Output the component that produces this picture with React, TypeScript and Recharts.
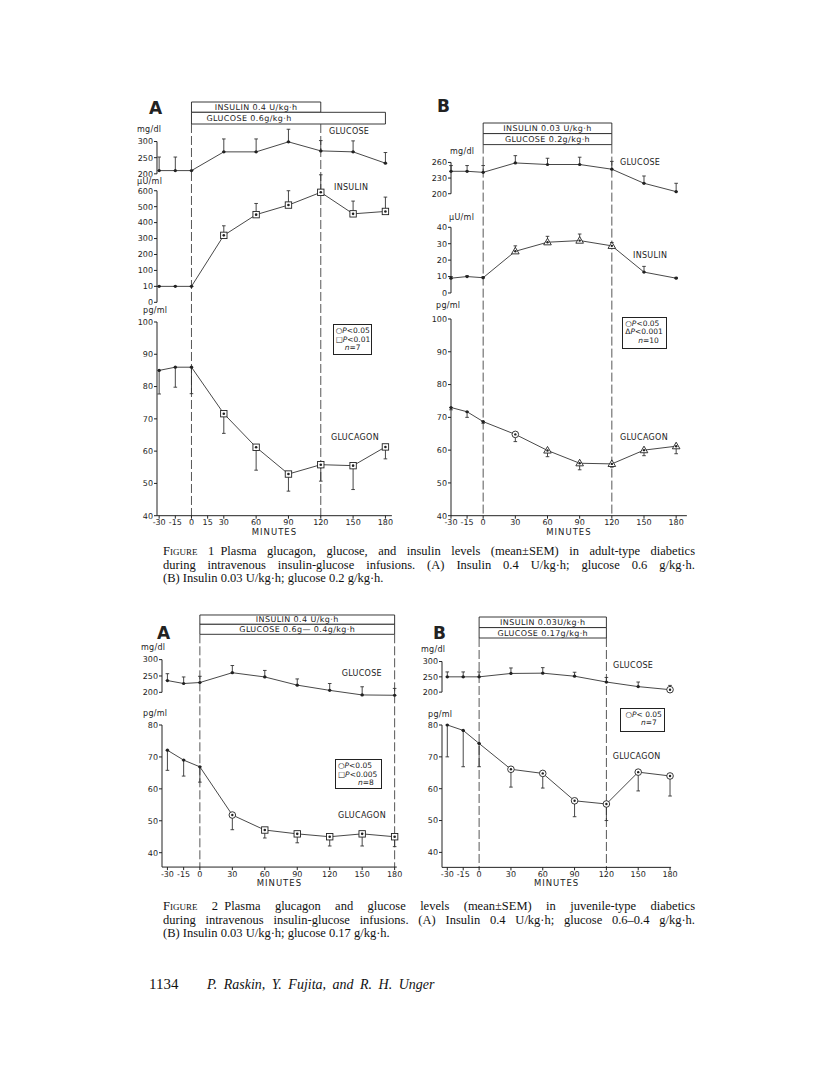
import React from "react";
import { LineChart, Line, XAxis, YAxis, ErrorBar, ReferenceLine, ReferenceArea } from "recharts";

const minutes = [-30, -15, 0, 30, 60, 90, 120, 150, 180];
const ticks1A = [-30, -15, 0, 15, 30, 60, 90, 120, 150, 180];
const ticksStd = [-30, -15, 0, 30, 60, 90, 120, 150, 180];

// Figure 1A (adult-type, insulin 0.4 U/kg.h)
const glucose1A = [210, 210, 210, 268, 268, 299, 271, 268, 233];
const glucose1AErr = [42, 42, 0, 40, 40, 39, 32, 34, 33];
const glucose1AMarks = ["dot", "dot", "dot", "dot", "dot", "dot", "dot", "dot", "dot"];
const insulin1A = [10, 10, 10, 320, 450, 510, 590, 455, 470];
const insulin1AErr = [0, 0, 0, 60, 70, 90, 110, 80, 90];
const insulin1AMarks = ["dot", "dot", "dot", "sq", "sq", "sq", "sq", "sq", "sq"];
const insulin1ATicks = [0, 1, 2, 3, 4, 5, 6, 7];
const insulin1ALabels = ["0", "10", "100", "200", "300", "400", "500", "600"];
const glucagon1A = [85, 86, 86, 71.6, 61.2, 52.9, 55.8, 55.5, 61.3];
const glucagon1AErr = [7.3, 6.2, 8.2, 6.1, 7.1, 5.3, 5.1, 7.4, 3.7];
const glucagon1AMarks = ["dot", "dot", "dot", "sq", "sq", "sq", "sq", "sq", "sq"];

// Figure 1B (adult-type, insulin 0.03 U/kg.h)
const glucose1B = [243, 243, 241, 259, 256, 256, 247, 220, 204];
const glucose1BErr = [11, 11, 13, 14, 12, 14, 15, 14, 16];
const glucose1BMarks = ["dot", "dot", "dot", "dot", "dot", "dot", "dot", "dot", "dot"];
const insulin1B = [9, 10, 9.3, 25.4, 30.9, 31.9, 28.7, 12.7, 9];
const insulin1BErr = [1, 0.5, 0.5, 3.3, 3.6, 4, 2, 3.5, 0.5];
const insulin1BMarks = ["dot", "dot", "dot", "tri", "tri", "tri", "tri", "dot", "dot"];
const glucagon1B = [73, 71.7, 68.7, 64.8, 59.9, 56, 55.8, 60, 61.2];
const glucagon1BErr = [0.7, 1.7, 0.5, 2.2, 1.9, 2, 1, 1.7, 2.3];
const glucagon1BMarks = ["dot", "dot", "dot", "circ", "tri", "tri", "tri", "tri", "tri"];

// Figure 2A (juvenile-type, insulin 0.4 U/kg.h)
const glucose2A = [236, 227, 230, 260, 247, 222, 206, 192, 191];
const glucose2AErr = [21, 20, 19, 22, 20, 19, 21, 25, 21];
const glucose2AMarks = ["dot", "dot", "dot", "dot", "dot", "dot", "dot", "dot", "dot"];
const glucagon2A = [72.1, 69, 66.9, 51.8, 47.1, 45.9, 45, 45.9, 45];
const glucagon2AErr = [6.3, 5, 4.8, 4.6, 2.5, 2.8, 2.9, 3.8, 3.1];
const glucagon2AMarks = ["dot", "dot", "dot", "circ", "sq", "sq", "sq", "sq", "sq"];

// Figure 2B (juvenile-type, insulin 0.03 U/kg.h)
const glucose2B = [250, 250, 250, 261, 262, 252, 233, 218, 208];
const glucose2BErr = [16, 16, 16, 18, 18, 13, 15, 15, 14];
const glucose2BMarks = ["dot", "dot", "dot", "dot", "dot", "dot", "dot", "dot", "circ"];
const glucagon2B = [80, 78.3, 74.2, 66.1, 64.8, 56.2, 55.2, 65.2, 64];
const glucagon2BErr = [10, 11.4, 7.3, 5.6, 4.6, 5, 5.2, 5.9, 6.3];
const glucagon2BMarks = ["dot", "dot", "dot", "circ", "circ", "circ", "circ", "circ", "circ"];

const INK = "#222";
const SANS = '"DejaVu Sans", sans-serif';
const SERIF = '"Liberation Serif", "DejaVu Serif", serif';
const AXW = 26;
const PAD = 12;

// broken insulin axis in 1A: 0-10, 10-100, then 100 per step
const brk = (v: number) => (v <= 10 ? v / 10 : v <= 100 ? 1 + (v - 10) / 90 : 2 + (v - 100) / 100);

const build = (vals: number[], errs: number[], marks: string[], up: boolean, f = (v: number) => v) =>
  minutes.map((t, i) => {
    const y = f(vals[i]);
    const e = up ? f(vals[i] + errs[i]) - y : y - f(vals[i] - errs[i]);
    return { t, v: y, e: up ? [0, e] : [e, 0], k: marks[i] };
  });

const renderMark = (props: any) => {
  const { cx, cy, payload, index } = props;
  if (cx == null || cy == null) return <g key={`m${index}`} />;
  const k = payload.k;
  if (k === "sq")
    return (
      <g key={`m${index}`}>
        <rect x={cx - 3.2} y={cy - 3.2} width={6.4} height={6.4} fill="#fff" stroke={INK} strokeWidth={0.9} />
        <circle cx={cx} cy={cy} r={1.3} fill={INK} />
      </g>
    );
  if (k === "circ")
    return (
      <g key={`m${index}`}>
        <circle cx={cx} cy={cy} r={3.3} fill="#fff" stroke={INK} strokeWidth={0.9} />
        <circle cx={cx} cy={cy} r={1.2} fill={INK} />
      </g>
    );
  if (k === "tri")
    return (
      <g key={`m${index}`}>
        <polygon
          points={`${cx},${cy - 4} ${cx - 3.8},${cy + 2.6} ${cx + 3.8},${cy + 2.6}`}
          fill="#fff"
          stroke={INK}
          strokeWidth={0.9}
        />
        <circle cx={cx} cy={cy} r={1.2} fill={INK} />
      </g>
    );
  return <circle key={`m${index}`} cx={cx} cy={cy} r={1.6} fill={INK} />;
};

type Panel = { xMin: number; xMax: number; left: number; right: number; ticks: number[] };
type Cal = [number, number, number, number];
const toPx = (c: Cal, v: number) => c[1] + ((v - c[0]) * (c[3] - c[1])) / (c[2] - c[0]);

const p1A: Panel = { xMin: -32, xMax: 186, left: 157.2, right: 392.1, ticks: ticks1A };
const p1B: Panel = { xMin: -30, xMax: 190, left: 450.5, right: 686.4, ticks: ticksStd };
const p2A: Panel = { xMin: -35, xMax: 182, left: 162.4, right: 397.2, ticks: ticksStd };
const p2B: Panel = { xMin: -35, xMax: 181, left: 441.9, right: 671.0, ticks: ticksStd };

const tickStyle = { fill: INK, fontSize: 8, fontFamily: SANS };

function Plot(props: {
  p: Panel;
  data: any[];
  cal: Cal;
  domain: [number, number];
  axis: [number, number];
  yTicks: number[];
  yLabels?: string[];
  showX?: boolean;
}) {
  const { p, data, cal, domain, axis, yTicks, yLabels, showX } = props;
  const yTop = toPx(cal, domain[1]);
  const yBot = toPx(cal, domain[0]);
  const xh = showX ? 19 : 0;
  const w = p.right - p.left + AXW + PAD;
  const h = yBot - yTop + 2 * PAD + xh;
  return (
    <div style={{ position: "absolute", left: p.left - AXW, top: yTop - PAD }}>
      <LineChart width={w} height={h} data={data} margin={{ top: PAD, right: PAD, bottom: PAD, left: 0 }}>
        <XAxis
          type="number"
          dataKey="t"
          domain={[p.xMin, p.xMax]}
          ticks={p.ticks}
          interval={0}
          hide={!showX}
          height={xh}
          axisLine={{ stroke: INK, strokeWidth: 1 }}
          tickLine={{ stroke: INK }}
          tickSize={3}
          tickMargin={1}
          tick={tickStyle}
          label={{ value: "MINUTES", position: "insideBottom", offset: 0, fill: INK, fontSize: 8.5, fontFamily: SANS, letterSpacing: 1 }}
        />
        <YAxis
          type="number"
          domain={domain}
          ticks={yTicks}
          interval={0}
          width={AXW}
          axisLine={false}
          tickLine={{ stroke: INK }}
          tickSize={3}
          tickMargin={1}
          tick={tickStyle}
          tickFormatter={(v: number) => (yLabels ? yLabels[yTicks.indexOf(v)] : String(v))}
        />
        <ReferenceLine
          segment={[{ x: p.xMin, y: axis[0] }, { x: p.xMin, y: axis[1] }]}
          stroke={INK}
          strokeWidth={1}
          ifOverflow="visible"
        />
        <Line type="linear" dataKey="v" stroke="#333" strokeWidth={0.9} dot={renderMark} activeDot={false} isAnimationActive={false}>
          <ErrorBar dataKey="e" direction="y" width={1.8} stroke="#333" strokeWidth={0.9} />
        </Line>
      </LineChart>
    </div>
  );
}

type Box = { x1: number; x2: number; y1: number; y2: number; text: string; pos?: string; off?: number };

// infusion boxes and the dashed start/stop lines, on an x scale shared with the panel
function Frame(props: { p: Panel; top: number; bottom: number; boxes: Box[]; dashX: number[] }) {
  const { p, top, bottom, boxes, dashX } = props;
  const h = bottom - top;
  const from = Math.max(...boxes.map((b) => b.y2)) - top;
  return (
    <div style={{ position: "absolute", left: p.left - AXW, top: top - PAD }}>
      <LineChart
        width={p.right - p.left + AXW + PAD}
        height={h + 2 * PAD}
        data={[{ t: p.xMin, y: 0 }, { t: p.xMax, y: h }]}
        margin={{ top: PAD, right: PAD, bottom: PAD, left: AXW }}
      >
        <XAxis type="number" dataKey="t" domain={[p.xMin, p.xMax]} hide />
        <YAxis type="number" domain={[0, h]} reversed hide />
        <Line dataKey="y" stroke="none" dot={false} activeDot={false} isAnimationActive={false} />
        {dashX.map((x) => (
          <ReferenceLine
            key={x}
            segment={[{ x, y: from }, { x, y: h }]}
            stroke="#444"
            strokeWidth={0.9}
            strokeDasharray="9 3"
            ifOverflow="visible"
          />
        ))}
        {boxes.map((b, i) => (
          <ReferenceArea
            key={i}
            x1={b.x1}
            x2={b.x2}
            y1={b.y1 - top}
            y2={b.y2 - top}
            fill="#fff"
            fillOpacity={1}
            stroke={INK}
            strokeWidth={0.9}
            ifOverflow="visible"
            label={{
              value: b.text,
              position: (b.pos || "center") as any,
              offset: b.off || 0,
              fontSize: 8,
              letterSpacing: 0.4,
              fill: INK,
              fontFamily: SANS,
            }}
          />
        ))}
      </LineChart>
    </div>
  );
}

function Txt(props: { x: number; y: number; s?: number; b?: boolean; ls?: number; children: React.ReactNode }) {
  const s = props.s || 8;
  return (
    <div
      style={{
        position: "absolute",
        left: props.x,
        top: props.y - s * 0.6,
        fontSize: s,
        lineHeight: 1.2,
        fontFamily: SANS,
        fontWeight: props.b ? "bold" : "normal",
        letterSpacing: props.ls ?? 0.3,
        color: INK,
        whiteSpace: "nowrap",
      }}
    >
      {props.children}
    </div>
  );
}

function Legend(props: { x: number; y: number; w: number; h: number; lines: React.ReactNode[] }) {
  return (
    <div
      style={{
        position: "absolute",
        left: props.x,
        top: props.y,
        width: props.w,
        height: props.h,
        border: `1px solid ${INK}`,
        boxSizing: "border-box",
        padding: "2px 2px",
        fontFamily: SANS,
        fontSize: 7.5,
        lineHeight: "8.6px",
        color: INK,
        whiteSpace: "nowrap",
      }}
    >
      {props.lines.map((l, i) => (
        <div key={i}>{l}</div>
      ))}
    </div>
  );
}

const P = <i>P</i>;

function Caption(props: { y: number; lines: React.ReactNode[] }) {
  return (
    <>
      {props.lines.map((l, i) => (
        <div
          key={i}
          style={{
            position: "absolute",
            left: 163,
            top: props.y + i * 13.6 - 8,
            width: i < props.lines.length - 1 ? 532 : undefined,
            fontFamily: SERIF,
            fontSize: 12.5,
            lineHeight: "16px",
            color: "#111",
            textAlign: "justify",
            textAlignLast: i < props.lines.length - 1 ? "justify" : "left",
            whiteSpace: "nowrap",
          }}
        >
          {l}
        </div>
      ))}
    </>
  );
}

const FIG = (n: string) => <span style={{ fontVariant: "small-caps" }}>Figure {n}</span>;

export default function App() {
  return (
    <div style={{ position: "absolute", left: 0, top: 0, width: 816, height: 1089, background: "#fff", overflow: "hidden" }}>
      {/* Figure 1A */}
      <Frame
        p={p1A}
        top={101.7}
        bottom={516}
        dashX={[0, 120]}
        boxes={[
          { x1: 0, x2: 120, y1: 101.7, y2: 112, text: "INSULIN 0.4 U/kg·h" },
          { x1: 0, x2: 180, y1: 112, y2: 123.7, text: "GLUCOSE 0.6g/kg·h", pos: "insideLeft", off: 15 },
        ]}
      />
      <Plot p={p1A} data={build(glucose1A, glucose1AErr, glucose1AMarks, true)} cal={[200, 174, 300, 141.7]} domain={[190, 345]} axis={[200, 300]} yTicks={[200, 250, 300]} />
      <Plot p={p1A} data={build(insulin1A, insulin1AErr, insulin1AMarks, true, brk)} cal={[0, 302.3, 7, 190.7]} domain={[0, 8.3]} axis={[0, 7]} yTicks={insulin1ATicks} yLabels={insulin1ALabels} />
      <Plot p={p1A} data={build(glucagon1A, glucagon1AErr, glucagon1AMarks, false)} cal={[40, 516, 100, 322.3]} domain={[40, 100]} axis={[40, 100]} yTicks={[40, 50, 60, 70, 80, 90, 100]} showX />
      <Txt x={149} y={108} s={17} b ls={0}>A</Txt>
      <Txt x={137} y={130}>mg/dl</Txt>
      <Txt x={329} y={131.7}>GLUCOSE</Txt>
      <Txt x={137} y={182}>μU/ml</Txt>
      <Txt x={334} y={187.7}>INSULIN</Txt>
      <Txt x={143} y={311}>pg/ml</Txt>
      <Txt x={331} y={437.7}>GLUCAGON</Txt>
      <Legend x={332.7} y={324} w={39.6} h={31} lines={[<>○{P}&lt;0.05</>, <>□{P}&lt;0.01</>, <span style={{ paddingLeft: 9 }}><i>n</i>=7</span>]} />

      {/* Figure 1B */}
      <Frame
        p={p1B}
        top={122.7}
        bottom={515.7}
        dashX={[0, 120]}
        boxes={[
          { x1: 0, x2: 120, y1: 122.7, y2: 133.3, text: "INSULIN 0.03 U/kg·h" },
          { x1: 0, x2: 120, y1: 133.3, y2: 144.3, text: "GLUCOSE 0.2g/kg·h" },
        ]}
      />
      <Plot p={p1B} data={build(glucose1B, glucose1BErr, glucose1BMarks, true)} cal={[200, 194, 260, 162.7]} domain={[195, 280]} axis={[200, 260]} yTicks={[200, 230, 260]} />
      <Plot p={p1B} data={build(insulin1B, insulin1BErr, insulin1BMarks, true)} cal={[0, 293, 40, 227.3]} domain={[0, 42]} axis={[0, 40]} yTicks={[0, 10, 20, 30, 40]} />
      <Plot p={p1B} data={build(glucagon1B, glucagon1BErr, glucagon1BMarks, false)} cal={[40, 515.7, 100, 319]} domain={[40, 100]} axis={[40, 100]} yTicks={[40, 50, 60, 70, 80, 90, 100]} showX />
      <Txt x={437} y={106} s={17} b ls={0}>B</Txt>
      <Txt x={450} y={151.7}>mg/dl</Txt>
      <Txt x={620} y={162.3}>GLUCOSE</Txt>
      <Txt x={449} y={217.3}>μU/ml</Txt>
      <Txt x={633} y={255.7}>INSULIN</Txt>
      <Txt x={436} y={306}>pg/ml</Txt>
      <Txt x={620} y={437.3}>GLUCAGON</Txt>
      <Legend x={622.3} y={316.7} w={45} h={32.3} lines={[<>○{P}&lt;0.05</>, <>Δ{P}&lt;0.001</>, <span style={{ paddingLeft: 13 }}><i>n</i>=10</span>]} />

      {/* Figure 2A */}
      <Frame
        p={p2A}
        top={615}
        bottom={867.1}
        dashX={[0, 180]}
        boxes={[
          { x1: 0, x2: 180, y1: 615, y2: 624.3, text: "INSULIN 0.4 U/kg·h" },
          { x1: 0, x2: 180, y1: 624.3, y2: 634.3, text: "GLUCOSE 0.6g— 0.4g/kg·h" },
        ]}
      />
      <Plot p={p2A} data={build(glucose2A, glucose2AErr, glucose2AMarks, true)} cal={[200, 692, 300, 659.3]} domain={[185, 305]} axis={[200, 300]} yTicks={[200, 250, 300]} />
      <Plot p={p2A} data={build(glucagon2A, glucagon2AErr, glucagon2AMarks, false)} cal={[40, 852.7, 80, 725]} domain={[35.5, 80]} axis={[35.5, 80]} yTicks={[40, 50, 60, 70, 80]} showX />
      <Txt x={157} y={633} s={17} b ls={0}>A</Txt>
      <Txt x={141} y={647.7}>mg/dl</Txt>
      <Txt x={341.7} y={673.3}>GLUCOSE</Txt>
      <Txt x={143} y={714}>pg/ml</Txt>
      <Txt x={338} y={816}>GLUCAGON</Txt>
      <Legend x={335} y={759.3} w={46.7} h={30} lines={[<>○{P}&lt;0.05</>, <>□{P}&lt;0.005</>, <span style={{ paddingLeft: 20 }}><i>n</i>=8</span>]} />

      {/* Figure 2B */}
      <Frame
        p={p2B}
        top={616.7}
        bottom={867.7}
        dashX={[0, 120]}
        boxes={[
          { x1: 0, x2: 120, y1: 616.7, y2: 627.3, text: "INSULIN 0.03U/kg·h" },
          { x1: 0, x2: 120, y1: 627.3, y2: 637.7, text: "GLUCOSE 0.17g/kg·h" },
        ]}
      />
      <Plot p={p2B} data={build(glucose2B, glucose2BErr, glucose2BMarks, true)} cal={[200, 692.3, 300, 661.7]} domain={[195, 305]} axis={[200, 300]} yTicks={[200, 250, 300]} />
      <Plot p={p2B} data={build(glucagon2B, glucagon2BErr, glucagon2BMarks, false)} cal={[40, 852.7, 80, 725.3]} domain={[35.3, 80]} axis={[35.3, 80]} yTicks={[40, 50, 60, 70, 80]} showX />
      <Txt x={433} y={633} s={17} b ls={0}>B</Txt>
      <Txt x={421} y={650}>mg/dl</Txt>
      <Txt x={613} y={666}>GLUCOSE</Txt>
      <Txt x={428} y={715}>pg/ml</Txt>
      <Txt x={612.7} y={756.7}>GLUCAGON</Txt>
      <Legend x={620} y={707.7} w={45} h={24} lines={[<>&nbsp;○{P}&lt; 0.05</>, <span style={{ paddingLeft: 18 }}><i>n</i>=7</span>]} />

      <Caption
        y={551}
        lines={[
          <>{FIG("1")}&ensp;Plasma glucagon, glucose, and insulin levels (mean±SEM) in adult-type diabetics</>,
          <>during intravenous insulin-glucose infusions. (A) Insulin 0.4 U/kg·h; glucose 0.6 g/kg·h.</>,
          <>(B) Insulin 0.03 U/kg·h; glucose 0.2 g/kg·h.</>,
        ]}
      />
      <Caption
        y={906}
        lines={[
          <>{FIG("2")}&ensp;Plasma glucagon and glucose levels (mean±SEM) in juvenile-type diabetics</>,
          <>during intravenous insulin-glucose infusions. (A) Insulin 0.4 U/kg·h; glucose 0.6–0.4 g/kg·h.</>,
          <>(B) Insulin 0.03 U/kg·h; glucose 0.17 g/kg·h.</>,
        ]}
      />
      <div style={{ position: "absolute", left: 149, top: 976, fontFamily: SERIF, fontSize: 15, color: "#111" }}>1134</div>
      <div style={{ position: "absolute", left: 207, top: 977, fontFamily: SERIF, fontSize: 14, fontStyle: "italic", wordSpacing: 3, color: "#111" }}>
        P. Raskin, Y. Fujita, and R. H. Unger
      </div>
    </div>
  );
}
